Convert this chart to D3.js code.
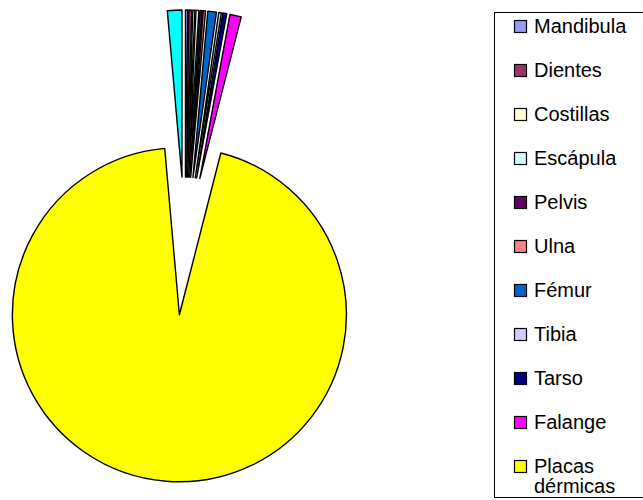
<!DOCTYPE html>
<html>
<head>
<meta charset="utf-8">
<script src="https://cdn.jsdelivr.net/npm/d3@7/dist/d3.min.js"></script>
<style>
  body { margin: 0; background: #fff; }
  svg { display: block; }
</style>
</head>
<body>
<svg width="643" height="500"></svg>
<script>
// huesos, en el orden de la serie (la ultima no se ve en la leyenda)
var categories = ["Mandibula", "Dientes", "Costillas", "Escápula", "Pelvis", "Ulna",
    "Fémur", "Tibia", "Tarso", "Falange", "Placas dérmicas", "Otros"];
var values = [0.22, 0.28, 0.2, 0.28, 0.22, 0.22, 0.83, 0.25, 0.39, 1.1, 94.6, 1.4];
var colors = ["#9999FF", "#993366", "#FFFFCC", "#CCFFFF", "#660066", "#FF8080",
    "#0066CC", "#CCCCFF", "#000080", "#FF00FF", "#FFFF00", "#00FFFF"];
var legendCount = 11; // la leyenda queda cortada abajo

var data = categories.map(function(c, i) {
    return { name: c, value: values[i], color: colors[i] };
});

var svg = d3.select("svg"),
    cx = 185, cy = 246,
    radius = 167,
    explode = 69;

var pie = d3.pie()
    .sort(null)
    .value(function(d) { return d.value; });

var arc = d3.arc()
    .innerRadius(0)
    .outerRadius(radius);

var g = svg.append("g")
    .attr("transform", "translate(" + cx + "," + cy + ")");

g.selectAll("path")
    .data(pie(data))
    .enter().append("path")
    .attr("transform", function(d) {
        var a = (d.startAngle + d.endAngle) / 2;
        return "translate(" + (explode * Math.sin(a)) + "," + (-explode * Math.cos(a)) + ")";
    })
    .attr("fill", function(d) { return d.data.color; })
    .attr("stroke", "#000")
    .attr("stroke-width", 1.4)
    .attr("stroke-linejoin", "round")
    .attr("d", arc);

// leyenda
var legend = svg.append("g");

legend.append("rect")
    .attr("x", 494.5)
    .attr("y", 12.5)
    .attr("width", 170)
    .attr("height", 485)
    .attr("fill", "#fff")
    .attr("stroke", "#000")
    .attr("stroke-width", 1);

var item = legend.selectAll("g.item")
    .data(data.slice(0, legendCount))
    .enter().append("g")
    .attr("class", "item")
    .attr("transform", function(d, i) { return "translate(514," + (26 + i * 44) + ")"; });

item.append("rect")
    .attr("x", 0.5)
    .attr("y", -5.5)
    .attr("width", 12)
    .attr("height", 12)
    .attr("fill", function(d) { return d.color; })
    .attr("stroke", "#000")
    .attr("stroke-width", 1.2);

item.append("text")
    .attr("x", 20)
    .attr("y", 7)
    .attr("font-family", "Liberation Sans, Arial, sans-serif")
    .attr("font-size", 20)
    .attr("fill", "#000")
    .each(function(d) {
        var words = d.name.split(" "),
            t = d3.select(this);
        words.forEach(function(w, k) {
            t.append("tspan")
                .attr("x", 20)
                .attr("dy", k ? 20 : 0)
                .text(w);
        });
    });
</script>
</body>
</html>
